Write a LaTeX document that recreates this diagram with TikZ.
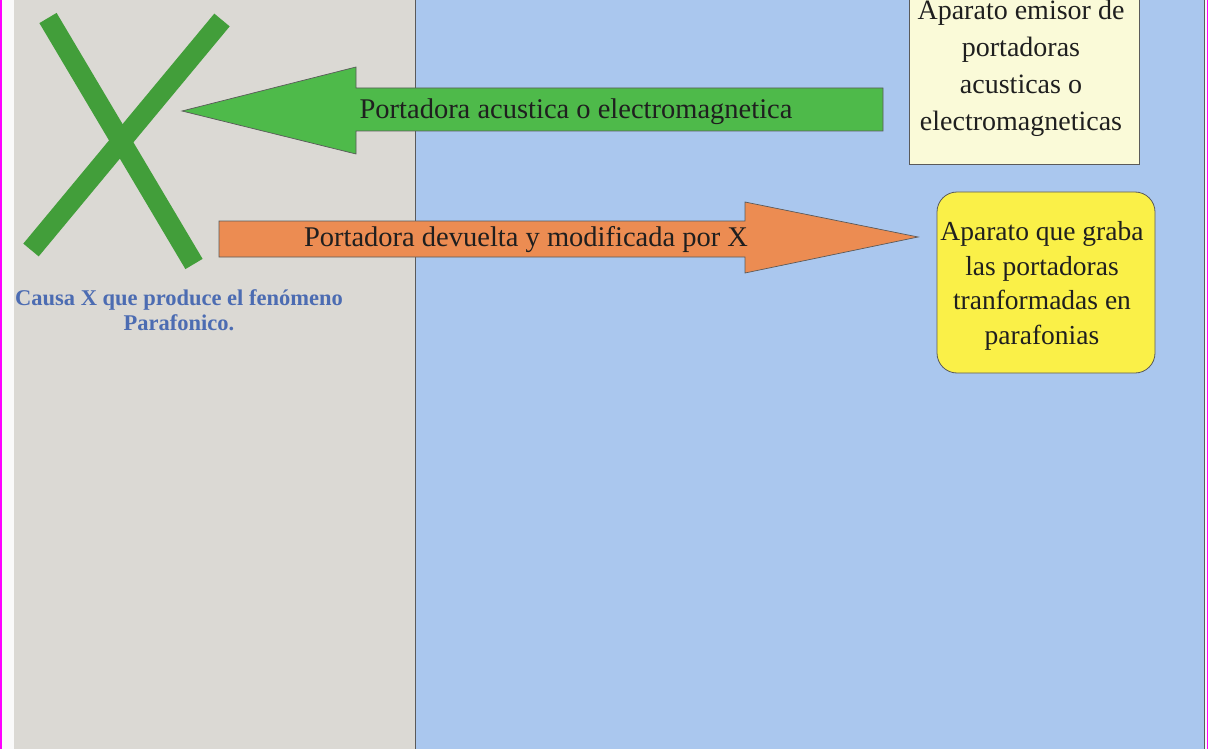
\documentclass[tikz,border=0pt]{standalone}
\usepackage{fontspec}
\setmainfont{Liberation Serif}
\definecolor{bggray}{RGB}{219,217,212}
\definecolor{bgblue}{RGB}{170,199,238}
\definecolor{arrgreen}{RGB}{78,186,74}
\definecolor{xgreen}{RGB}{66,158,58}
\definecolor{arrorange}{RGB}{236,140,82}
\definecolor{boxcream}{RGB}{250,250,216}
\definecolor{boxyellow}{RGB}{250,240,72}
\definecolor{capblue}{RGB}{76,108,178}
\definecolor{edgemag}{RGB}{255,0,255}
\definecolor{linegray}{RGB}{90,90,90}
\tikzset{
  blockarrow/.style={draw=linegray, line width=0.7pt, line join=miter},
  arrowtext/.style={inner sep=0pt, font=\fontsize{28.5}{32}\selectfont, text=black!88},
  boxtext/.style={inner sep=0pt, align=center, text=black!88},
}
\begin{document}
\begin{tikzpicture}[x=1pt,y=-1pt]
\useasboundingbox (0,0) rectangle (1208,749);
\clip (0,0) rectangle (1208,749);
% backgrounds
\fill[white!96!gray] (0,0) rectangle (1208,749);
\fill[bggray] (14,0) rectangle (415,749);
\fill[bgblue] (415,0) rectangle (1204,749);
\draw[linegray, line width=1.2pt] (415.5,0) -- (415.5,749);
\draw[linegray, line width=1pt] (1204,0) -- (1204,749);
\fill[edgemag] (0,0) rectangle (2,749);
\fill[edgemag] (1207,0) rectangle (1208,749);
% green X
\draw[xgreen, line width=20pt] (48,18) -- (194,264);
\draw[xgreen, line width=20pt] (222,20) -- (31,250);
\node[inner sep=0pt, align=center, text=capblue, font=\bfseries\fontsize{22.5}{25}\selectfont] (cap) at (179,310) {Causa X que produce el fenómeno\\Parafonico.};
% green arrow
\fill[arrgreen] (883,88) -- (356,88) -- (356,67) -- (182,111) -- (356,154) -- (356,131) -- (883,131) -- cycle;
\draw[blockarrow] (883,88) -- (356,88) -- (356,67) -- (182,111) -- (356,154) -- (356,131) -- (883,131) -- cycle;
\node[arrowtext] (t1) at (576,112) {Portadora acustica o electromagnetica};
% orange arrow
\fill[arrorange] (219,221) -- (745,221) -- (745,202) -- (918,237) -- (745,273) -- (745,257) -- (219,257) -- cycle;
\draw[blockarrow] (219,221) -- (745,221) -- (745,202) -- (918,237) -- (745,273) -- (745,257) -- (219,257) -- cycle;
\node[arrowtext] (t2) at (526,240) {Portadora devuelta y modificada por X};
% cream box
\draw[fill=boxcream, draw=linegray, line width=0.8pt] (909,-5) rectangle (1139,164);
\node[boxtext, font=\fontsize{28}{37}\selectfont] (emisor) at (1021,68) {Aparato emisor de\\portadoras\\acusticas o\\electromagneticas};
% yellow box
\draw[fill=boxyellow, draw=linegray, line width=0.8pt, rounded corners=20pt] (937,192) rectangle (1155,373);
\node[boxtext, font=\fontsize{27.5}{34.7}\selectfont] (graba) at (1042,286) {Aparato que graba\\las portadoras\\tranformadas en\\parafonias};
\end{tikzpicture}
\end{document}
